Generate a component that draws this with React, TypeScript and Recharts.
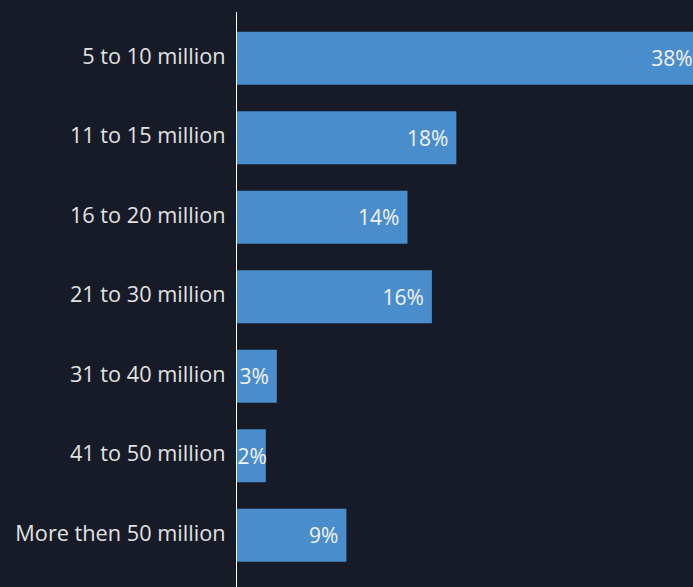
import React from 'react';
import { BarChart, Bar, XAxis, YAxis, LabelList } from 'recharts';

const categories = [
  '5 to 10 million',
  '11 to 15 million',
  '16 to 20 million',
  '21 to 30 million',
  '31 to 40 million',
  '41 to 50 million',
  'More then 50 million',
];
// bar lengths as measured; labels show the rounded percentage
const shares = [38, 18, 14, 16, 3.3, 2.4, 9];

const data = categories.map((name, i) => ({ name, value: shares[i] }));

const FONT = '"Open Sans", sans-serif';

function ValueLabel(props: any) {
  const { x, y, width, height, value } = props;
  const narrow = width < 32;
  return (
    <text
      x={narrow ? x + 1 : x + width - 8}
      y={y + height / 2}
      dy={8}
      textAnchor={narrow ? 'start' : 'end'}
      fill="#f4f4f4"
      fontSize={21}
      fontFamily={FONT}
    >
      {Math.round(value)}%
    </text>
  );
}

function CategoryTick(props: any) {
  const { x, y, payload } = props;
  return (
    <text x={x} y={y} dy={5} textAnchor="end" fill="#e2e2e2" fontSize={21.7} fontFamily={FONT}>
      {payload.value}
    </text>
  );
}

export default function App() {
  return (
    <div
      style={{
        position: 'absolute',
        left: 0,
        top: 0,
        width: 693,
        height: 587,
        overflow: 'hidden',
        background: '#161b27',
      }}
    >
      <BarChart
        width={725}
        height={587}
        data={data}
        layout="vertical"
        margin={{ top: 12, right: 0, bottom: 0, left: 0 }}
        barSize={53}
      >
        <XAxis type="number" domain={[0, 40]} hide />
        <YAxis
          type="category"
          dataKey="name"
          width={236.5}
          padding={{ top: 6.75, bottom: 11.75 }}
          axisLine={{ stroke: '#ffffff', strokeWidth: 1 }}
          tickLine={false}
          tickMargin={5}
          tick={CategoryTick}
        />
        <Bar dataKey="value" fill="#4a8dcd" isAnimationActive={false}>
          <LabelList dataKey="value" content={ValueLabel} />
        </Bar>
      </BarChart>
    </div>
  );
}
